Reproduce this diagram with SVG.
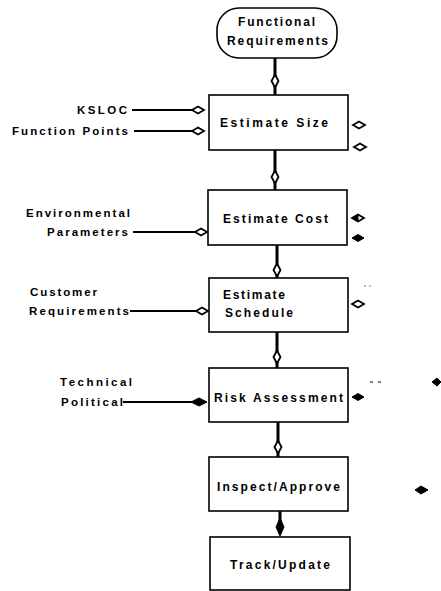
<svg xmlns="http://www.w3.org/2000/svg" width="441" height="591" viewBox="0 0 441 591">
<style>
  .box { fill: #fff; stroke: #000; stroke-width: 1.6; }
  .t { font-family: "Liberation Sans", Arial, sans-serif; font-weight: bold; font-size: 12px; fill: #000; }
  .tl { font-family: "Liberation Sans", Arial, sans-serif; font-weight: bold; font-size: 11.5px; fill: #000; }
  .ln { stroke: #000; stroke-width: 2; fill: none; }
  .vln { stroke: #000; stroke-width: 3; fill: none; }
  .dO { fill: #fff; stroke: #000; stroke-width: 1.8; }
  .dF { fill: #000; stroke: #000; stroke-width: 1; }
</style>
<defs>
  <polygon id="dh" points="-6,0 0,-3.5 6,0 0,3.5"/>
  <polygon id="dv" points="0,-6.5 3.5,0 0,6.5 -3.5,0"/>
</defs>
<rect width="441" height="591" fill="#fff"/>

<g id="connectors">
  <!-- vertical flow -->
  <line class="vln" x1="275" y1="58" x2="275" y2="95"/>
  <use href="#dv" class="dO" x="275" y="81"/>
  <line class="vln" x1="275" y1="150" x2="275" y2="190"/>
  <use href="#dv" class="dO" x="275" y="177"/>
  <line class="vln" x1="277" y1="245" x2="277" y2="278"/>
  <use href="#dv" class="dO" x="277" y="270"/>
  <line class="vln" x1="277" y1="332" x2="277" y2="368"/>
  <use href="#dv" class="dO" x="277" y="357"/>
  <line class="vln" x1="278" y1="422" x2="278" y2="457"/>
  <use href="#dv" class="dO" x="278" y="447"/>
  <line class="vln" x1="280" y1="511" x2="280" y2="522"/>
  <polygon class="dF" points="280,518 284,527 280,536 276,527"/>
  <!-- left inputs -->
  <line class="ln" x1="132" y1="110" x2="193" y2="110"/>
  <use href="#dh" class="dO" x="198" y="110"/>
  <line class="ln" x1="134" y1="131" x2="193" y2="131"/>
  <use href="#dh" class="dO" x="198" y="131"/>
  <line class="ln" x1="133" y1="232" x2="195" y2="232"/>
  <use href="#dh" class="dO" x="201" y="232"/>
  <line class="ln" x1="130" y1="311" x2="196" y2="311"/>
  <use href="#dh" class="dO" x="202" y="311"/>
  <line class="ln" x1="123" y1="402" x2="192" y2="402"/>
  <polygon class="dF" points="191,402 199,398 207,402 199,406"/>
  <!-- right outputs -->
  <use href="#dh" class="dO" x="359" y="125"/>
  <use href="#dh" class="dO" x="360" y="147"/>
  <use href="#dh" class="dO" x="358" y="218"/>
  <polygon class="dF" points="352,218 358,215 358,221"/>
  <use href="#dh" class="dF" x="358" y="238"/>
  <use href="#dh" class="dO" x="358" y="304"/>
  <use href="#dh" class="dF" x="358" y="397"/>
  <!-- stray marks -->
  <polygon class="dF" points="432,382 437,378 441,382 437,386"/>
  <polygon class="dF" points="415,490 421,486 428,490 421,494"/>
  <line x1="370" y1="382" x2="373" y2="382" stroke="#000" stroke-width="1"/>
  <line x1="378" y1="382" x2="381" y2="382" stroke="#000" stroke-width="1"/>
  <line x1="364" y1="286" x2="366" y2="286" stroke="#555" stroke-width="0.8"/>
  <line x1="369" y1="286" x2="371" y2="286" stroke="#555" stroke-width="0.8"/>
</g>

<g id="functional-requirements">
  <rect class="box" x="217" y="8" width="120" height="50" rx="22" ry="22"/>
  <text class="t" x="238" y="26" textLength="77" lengthAdjust="spacing">Functional</text>
  <text class="t" x="227" y="45" textLength="101" lengthAdjust="spacing">Requirements</text>
</g>

<g id="estimate-size">
  <rect class="box" x="209" y="95" width="139" height="55"/>
  <text class="t" x="220" y="127" textLength="108" lengthAdjust="spacing">Estimate Size</text>
</g>

<g id="estimate-cost">
  <rect class="box" x="208" y="190" width="139" height="55"/>
  <text class="t" x="223" y="223" textLength="105" lengthAdjust="spacing">Estimate Cost</text>
</g>

<g id="estimate-schedule">
  <rect class="box" x="209" y="278" width="139" height="54"/>
  <text class="t" x="223" y="299" textLength="62" lengthAdjust="spacing">Estimate</text>
  <text class="t" x="225" y="317" textLength="68" lengthAdjust="spacing">Schedule</text>
</g>

<g id="risk-assessment">
  <rect class="box" x="209" y="368" width="139" height="54"/>
  <text class="t" x="214" y="402" textLength="129" lengthAdjust="spacing">Risk Assessment</text>
</g>

<g id="inspect-approve">
  <rect class="box" x="209" y="457" width="139" height="54"/>
  <text class="t" x="217" y="491" textLength="123" lengthAdjust="spacing">Inspect/Approve</text>
</g>

<g id="track-update">
  <rect class="box" x="210" y="537" width="140" height="53"/>
  <text class="t" x="230" y="569" textLength="100" lengthAdjust="spacing">Track/Update</text>
</g>

<g id="labels">
  <text class="tl" x="77" y="114" textLength="50" lengthAdjust="spacing">KSLOC</text>
  <text class="tl" x="12" y="135" textLength="116" lengthAdjust="spacing">Function Points</text>
  <text class="tl" x="26" y="217" textLength="104" lengthAdjust="spacing">Environmental</text>
  <text class="tl" x="47" y="236" textLength="81" lengthAdjust="spacing">Parameters</text>
  <text class="tl" x="30" y="296" textLength="67" lengthAdjust="spacing">Customer</text>
  <text class="tl" x="29" y="315" textLength="100" lengthAdjust="spacing">Requirements</text>
  <text class="tl" x="60" y="386" textLength="72" lengthAdjust="spacing">Technical</text>
  <text class="tl" x="61" y="406" textLength="62" lengthAdjust="spacing">Political</text>
</g>
</svg>
